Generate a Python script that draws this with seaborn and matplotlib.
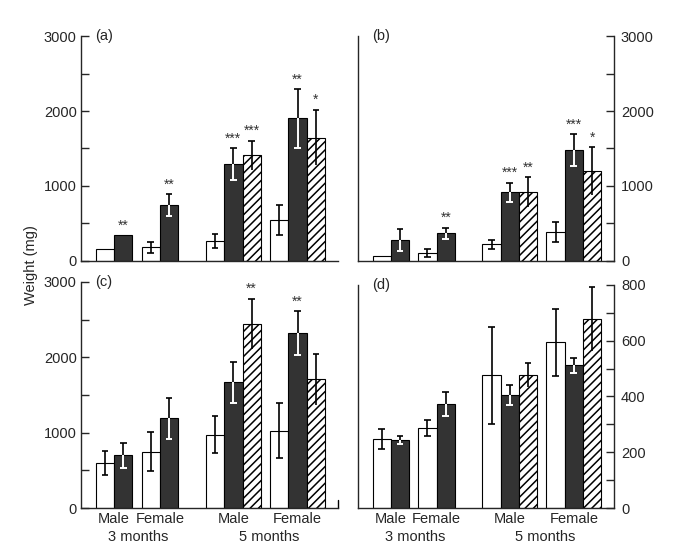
"""Organ weight bar charts, four panels (a)-(d)."""

import matplotlib

matplotlib.use("Agg")

import matplotlib.pyplot as plt  # noqa: E402
import numpy as np  # noqa: E402
import pandas as pd  # noqa: E402
import seaborn as sns  # noqa: E402
from matplotlib.ticker import MultipleLocator  # noqa: E402

sns.set_style("ticks")
plt.rcParams["font.family"] = ["Liberation Sans", "DejaVu Sans"]
plt.rcParams["hatch.linewidth"] = 1.1

SEXES = ["Male", "Female", "Male", "Female"]
AGES = ["3 months", "5 months"]

# (a)
a_open = [155, 182, 266, 545]
a_open_se = [0, 75, 92, 200]
a_solid = [340, 745, 1290, 1902]
a_solid_se = [0, 142, 210, 390]
a_hatch = [1410, 1645]
a_hatch_se = [195, 370]
a_solid_sig = ["**", "**", "***", "**"]
a_hatch_sig = ["***", "*"]

# (b)
b_open = [62, 102, 222, 381]
b_open_se = [0, 53, 60, 133]
b_solid = [279, 372, 914, 1477]
b_solid_se = [144, 73, 128, 215]
b_hatch = [914, 1197]
b_hatch_se = [200, 320]
b_solid_sig = ["", "**", "***", "***"]
b_hatch_sig = ["**", "*"]

# (c)
c_open = [600, 747, 973, 1027]
c_open_se = [160, 260, 247, 367]
c_solid = [698, 1191, 1667, 2324]
c_solid_se = [170, 275, 270, 290]
c_hatch = [2444, 1707]
c_hatch_se = [330, 342]
c_solid_sig = ["", "", "", "**"]
c_hatch_sig = ["**", ""]

# (d)
d_open = [247, 287, 476, 595]
d_open_se = [37, 29, 173, 120]
d_solid = [244, 373, 405, 512]
d_solid_se = [13, 44, 36, 26]
d_hatch = [476, 677]
d_hatch_se = [43, 115]
d_solid_sig = ["", "", "", ""]
d_hatch_sig = ["", ""]

# Layout: group centres in bar-width units
CENTRES = [1.8, 4.3, 8.3, 11.8]
XMAX = 14.0
FILL = {"open": "white", "solid": "#333333", "hatch": "white"}
CAP = 0.18
FS = 10.5


def panel_frame(open_, open_se, solid, solid_se, hatch, hatch_se, solid_sig, hatch_sig):
    rows = []
    for g, c in enumerate(CENTRES):
        three = g >= 2
        o_off, s_off = (-1.0, 0.0) if three else (-0.5, 0.5)
        rows.append(dict(pos=round(c + o_off, 2), kind="open", value=open_[g],
                         se=open_se[g], sig=""))
        rows.append(dict(pos=round(c + s_off, 2), kind="solid", value=solid[g],
                         se=solid_se[g], sig=solid_sig[g]))
        if three:
            h = g - 2
            rows.append(dict(pos=round(c + 1.0, 2), kind="hatch", value=hatch[h],
                             se=hatch_se[h], sig=hatch_sig[h]))
    return pd.DataFrame(rows)


def draw_panel(ax, df):
    sns.barplot(data=df, x="pos", y="value", hue="kind",
                hue_order=["open", "solid", "hatch"], palette=FILL,
                native_scale=True, dodge=False, width=1.0, saturation=1,
                edgecolor="black", linewidth=0.8, errorbar=None,
                legend=False, ax=ax)
    hatched = set(df.loc[df["kind"] == "hatch", "pos"])
    for patch in ax.patches:
        cx = round(patch.get_x() + patch.get_width() / 2, 2)
        if cx in hatched:
            patch.set_hatch("////")

    lw = 1.2
    for _, r in df.iterrows():
        x, v, se = r["pos"], r["value"], r["se"]
        if se > 0:
            if r["kind"] == "open":
                ax.vlines(x, v - se, v + se, color="black", lw=lw, zorder=4)
                ax.hlines([v - se, v + se], x - CAP, x + CAP, color="black",
                          lw=lw, zorder=4)
            elif r["kind"] == "solid":
                ax.vlines(x, v, v + se, color="black", lw=lw, zorder=4)
                ax.hlines(v + se, x - CAP, x + CAP, color="black", lw=lw, zorder=4)
                ax.vlines(x, v - se, v, color="white", lw=lw + 0.2, zorder=4)
                ax.hlines(v - se, x - CAP, x + CAP, color="white", lw=lw + 0.2,
                          zorder=4)
            else:
                ax.vlines(x, v - se, v + se, color="black", lw=lw, zorder=4)
                ax.hlines(v + se, x - CAP, x + CAP, color="black", lw=lw, zorder=4)
        if r["sig"]:
            ax.annotate(r["sig"], (x, v + se), xytext=(0, 2),
                        textcoords="offset points", ha="center", va="bottom",
                        fontsize=10, color="#333333")
    ax.set_xlim(0, XMAX)
    ax.set_xlabel("")
    ax.set_ylabel("")


fig = plt.figure(figsize=(6.91, 5.54), dpi=100)
ax_a = fig.add_axes([0.1172, 0.5289, 0.3719, 0.4061])
ax_b = fig.add_axes([0.5181, 0.5289, 0.3705, 0.4061])
ax_c = fig.add_axes([0.1172, 0.0830, 0.3719, 0.4080])
ax_d = fig.add_axes([0.5181, 0.0830, 0.3705, 0.4026])

draw_panel(ax_a, panel_frame(a_open, a_open_se, a_solid, a_solid_se, a_hatch,
                             a_hatch_se, a_solid_sig, a_hatch_sig))
draw_panel(ax_b, panel_frame(b_open, b_open_se, b_solid, b_solid_se, b_hatch,
                             b_hatch_se, b_solid_sig, b_hatch_sig))
draw_panel(ax_c, panel_frame(c_open, c_open_se, c_solid, c_solid_se, c_hatch,
                             c_hatch_se, c_solid_sig, c_hatch_sig))
draw_panel(ax_d, panel_frame(d_open, d_open_se, d_solid, d_solid_se, d_hatch,
                             d_hatch_se, d_solid_sig, d_hatch_sig))

for ax, top, major, minor in [(ax_a, 3000, 1000, 500), (ax_b, 3000, 1000, 500),
                              (ax_c, 3000, 1000, 500), (ax_d, 800, 200, 100)]:
    ax.set_ylim(0, top)
    ax.yaxis.set_major_locator(MultipleLocator(major))
    ax.yaxis.set_minor_locator(MultipleLocator(minor))
    ax.spines["top"].set_visible(False)
    for s in ax.spines.values():
        s.set_linewidth(1.0)
    ax.tick_params(axis="y", which="both", direction="in", length=6,
                   width=1.0, labelsize=FS)
    ax.tick_params(axis="x", length=0, pad=3, labelsize=FS)

for ax in (ax_a, ax_c):
    ax.spines["right"].set_visible(False)
    ax.tick_params(axis="y", which="both", pad=3)

for ax in (ax_b, ax_d):
    ax.yaxis.tick_right()
    ax.tick_params(axis="y", which="both", left=False, right=True, pad=5)

for ax in (ax_a, ax_b):
    ax.set_xticks(CENTRES)
    ax.set_xticklabels([])

for ax in (ax_c, ax_d):
    ax.set_xticks(CENTRES)
    ax.set_xticklabels(SEXES)
    trans = ax.get_xaxis_transform()
    ax.text(np.mean(CENTRES[:2]) + 0.05, -0.13, AGES[0], transform=trans,
            ha="center", va="center", fontsize=FS)
    ax.text(np.mean(CENTRES[2:]) + 0.2, -0.13, AGES[1], transform=trans,
            ha="center", va="center", fontsize=FS)

ax_c.axvline(XMAX, ymax=0.035, color="black", lw=1.0, clip_on=False)

for ax, tag in zip([ax_a, ax_b, ax_c, ax_d], ["(a)", "(b)", "(c)", "(d)"]):
    ax.text(0.055, 1.0, tag, transform=ax.transAxes, ha="left", va="center",
            fontsize=FS)

fig.text(0.045, 0.522, "Weight (mg)", rotation=90, ha="center", va="center",
         fontsize=FS)

fig.savefig("out.png", dpi=100)
